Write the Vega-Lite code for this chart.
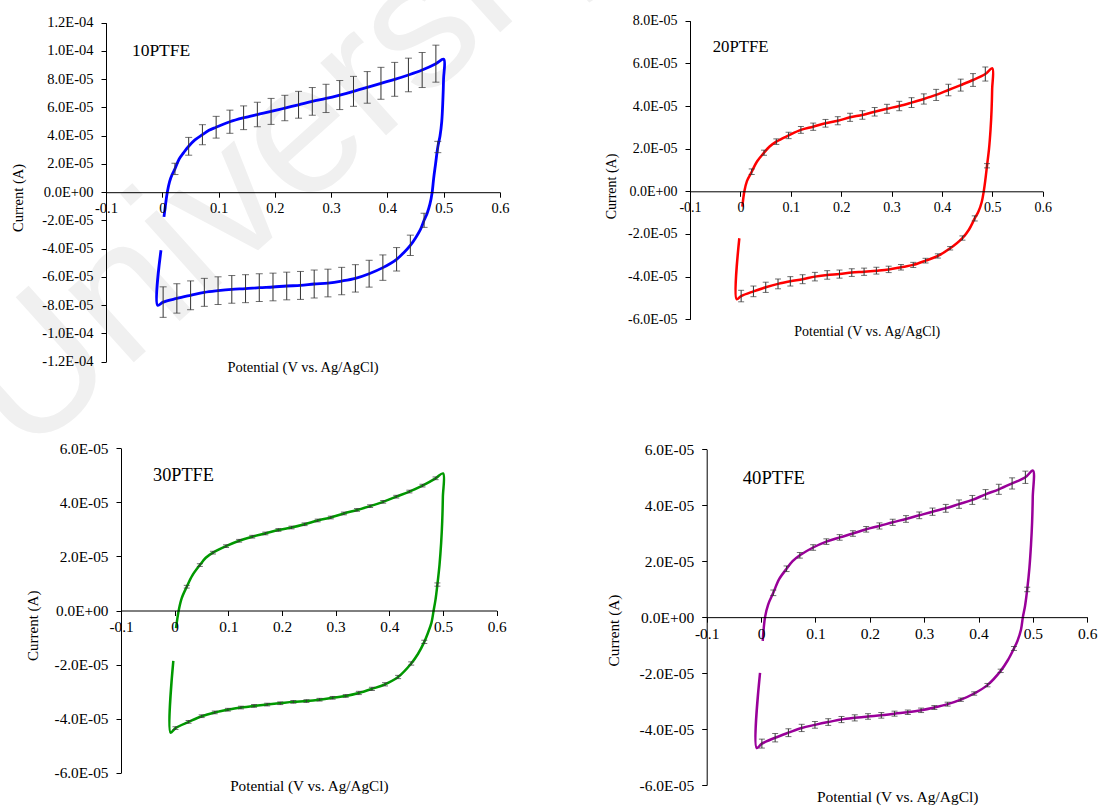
{
  "$schema": "https://vega.github.io/schema/vega-lite/v6.json",
  "width": 1100,
  "height": 807,
  "padding": 0,
  "autosize": {"type": "none"},
  "background": "white",
  "config": {
    "view": {"stroke": null},
    "axis": {"grid": false, "domainColor": "black", "tickColor": "black", "labelColor": "black", "titleColor": "black", "labelFont": "Liberation Serif", "titleFont": "Liberation Serif", "titleFontWeight": "normal", "tickSize": 5, "labelOverlap": false, "labelFlush": false, "domainWidth": 1, "tickWidth": 1}
  },
  "datasets": {
    "p1": [
      {"v": 0.003, "c": -1.75e-5}, {"v": 0.006, "c": -0.8e-5}, {"v": 0.0089, "c": 0}, {"v": 0.013, "c": 0.75e-5}, {"v": 0.0175, "c": 1.25e-5},
      {"v": 0.0225, "c": 1.65e-5, "e": 0.4e-5}, {"v": 0.03, "c": 2.35e-5}, {"v": 0.038, "c": 2.8e-5}, {"v": 0.0469, "c": 3.25e-5, "e": 0.63e-5},
      {"v": 0.058, "c": 3.7e-5}, {"v": 0.0713, "c": 4.07e-5, "e": 0.71e-5}, {"v": 0.083, "c": 4.38e-5}, {"v": 0.0957, "c": 4.6e-5, "e": 0.77e-5},
      {"v": 0.1201, "c": 4.99e-5, "e": 0.82e-5}, {"v": 0.1445, "c": 5.27e-5, "e": 0.84e-5}, {"v": 0.1689, "c": 5.5e-5, "e": 0.86e-5},
      {"v": 0.1933, "c": 5.72e-5, "e": 0.92e-5}, {"v": 0.2177, "c": 5.96e-5, "e": 0.9e-5}, {"v": 0.2421, "c": 6.19e-5, "e": 0.95e-5},
      {"v": 0.2665, "c": 6.43e-5, "e": 0.98e-5}, {"v": 0.2909, "c": 6.64e-5, "e": 1.0e-5}, {"v": 0.3153, "c": 6.88e-5, "e": 1.03e-5},
      {"v": 0.3397, "c": 7.14e-5, "e": 1.06e-5}, {"v": 0.3641, "c": 7.42e-5, "e": 1.12e-5}, {"v": 0.3885, "c": 7.71e-5, "e": 1.13e-5},
      {"v": 0.4129, "c": 7.99e-5, "e": 1.2e-5}, {"v": 0.4373, "c": 8.3e-5, "e": 1.19e-5}, {"v": 0.4617, "c": 8.65e-5, "e": 1.24e-5},
      {"v": 0.4861, "c": 9.1e-5, "e": 1.31e-5}, {"v": 0.5, "c": 9.41e-5},
      {"v": 0.4997, "c": 8.0e-5}, {"v": 0.4985, "c": 6.5e-5}, {"v": 0.4965, "c": 5.0e-5}, {"v": 0.4935, "c": 4.0e-5},
      {"v": 0.4895, "c": 3.2e-5, "e": 0.4e-5}, {"v": 0.4855, "c": 2.0e-5}, {"v": 0.4822, "c": 1.0e-5}, {"v": 0.4795, "c": 0},
      {"v": 0.4755, "c": -0.85e-5}, {"v": 0.4705, "c": -1.5e-5}, {"v": 0.4651, "c": -1.99e-5, "e": 0.5e-5}, {"v": 0.4585, "c": -2.65e-5},
      {"v": 0.4505, "c": -3.2e-5}, {"v": 0.4407, "c": -3.76e-5, "e": 0.72e-5}, {"v": 0.4285, "c": -4.3e-5}, {"v": 0.4163, "c": -4.75e-5, "e": 0.83e-5},
      {"v": 0.3919, "c": -5.34e-5, "e": 0.9e-5}, {"v": 0.3675, "c": -5.77e-5, "e": 0.95e-5}, {"v": 0.3431, "c": -6.1e-5, "e": 0.97e-5},
      {"v": 0.3187, "c": -6.29e-5, "e": 0.97e-5}, {"v": 0.2943, "c": -6.43e-5, "e": 0.98e-5}, {"v": 0.2699, "c": -6.5e-5, "e": 0.99e-5},
      {"v": 0.2455, "c": -6.6e-5, "e": 0.99e-5}, {"v": 0.2211, "c": -6.64e-5, "e": 0.98e-5}, {"v": 0.1967, "c": -6.71e-5, "e": 0.98e-5},
      {"v": 0.1723, "c": -6.76e-5, "e": 0.98e-5}, {"v": 0.1479, "c": -6.83e-5, "e": 0.99e-5}, {"v": 0.1235, "c": -6.88e-5, "e": 0.98e-5},
      {"v": 0.0991, "c": -6.97e-5, "e": 0.98e-5}, {"v": 0.0747, "c": -7.09e-5, "e": 0.99e-5}, {"v": 0.0503, "c": -7.3e-5, "e": 1.02e-5},
      {"v": 0.0259, "c": -7.52e-5, "e": 1.04e-5}, {"v": 0.0015, "c": -7.78e-5, "e": 1.08e-5}, {"v": -0.0082, "c": -8.01e-5},
      {"v": -0.0023, "c": -4.11e-5}
    ],
    "p2": [
      {"v": 0.0039, "c": -0.72e-5}, {"v": 0.0079, "c": 0}, {"v": 0.013, "c": 0.48e-5}, {"v": 0.0225, "c": 0.92e-5, "e": 0.13e-5},
      {"v": 0.033, "c": 1.4e-5}, {"v": 0.0469, "c": 1.81e-5, "e": 0.12e-5}, {"v": 0.058, "c": 2.1e-5}, {"v": 0.0713, "c": 2.33e-5, "e": 0.13e-5},
      {"v": 0.0957, "c": 2.62e-5, "e": 0.15e-5}, {"v": 0.1201, "c": 2.88e-5, "e": 0.16e-5}, {"v": 0.1445, "c": 3.03e-5, "e": 0.17e-5},
      {"v": 0.1689, "c": 3.19e-5, "e": 0.18e-5}, {"v": 0.1933, "c": 3.31e-5, "e": 0.19e-5}, {"v": 0.2177, "c": 3.47e-5, "e": 0.19e-5},
      {"v": 0.2421, "c": 3.58e-5, "e": 0.2e-5}, {"v": 0.2665, "c": 3.73e-5, "e": 0.2e-5}, {"v": 0.2909, "c": 3.87e-5, "e": 0.21e-5},
      {"v": 0.3153, "c": 4.0e-5, "e": 0.22e-5}, {"v": 0.3397, "c": 4.16e-5, "e": 0.23e-5}, {"v": 0.3641, "c": 4.33e-5, "e": 0.24e-5},
      {"v": 0.3885, "c": 4.52e-5, "e": 0.26e-5}, {"v": 0.4129, "c": 4.75e-5, "e": 0.27e-5}, {"v": 0.4373, "c": 4.98e-5, "e": 0.28e-5},
      {"v": 0.4617, "c": 5.22e-5, "e": 0.3e-5}, {"v": 0.4861, "c": 5.5e-5, "e": 0.33e-5}, {"v": 0.5, "c": 5.77e-5},
      {"v": 0.4997, "c": 4.8e-5}, {"v": 0.4985, "c": 3.8e-5}, {"v": 0.4965, "c": 2.9e-5}, {"v": 0.4935, "c": 2.0e-5},
      {"v": 0.4895, "c": 1.2e-5, "e": 0.1e-5}, {"v": 0.486, "c": 0.5e-5}, {"v": 0.483, "c": 0}, {"v": 0.479, "c": -0.5e-5},
      {"v": 0.4725, "c": -0.95e-5}, {"v": 0.4651, "c": -1.27e-5, "e": 0.12e-5}, {"v": 0.4535, "c": -1.8e-5}, {"v": 0.4407, "c": -2.19e-5, "e": 0.1e-5},
      {"v": 0.4163, "c": -2.67e-5, "e": 0.08e-5}, {"v": 0.3919, "c": -3.03e-5, "e": 0.1e-5}, {"v": 0.3675, "c": -3.25e-5, "e": 0.11e-5},
      {"v": 0.3431, "c": -3.45e-5, "e": 0.12e-5}, {"v": 0.3187, "c": -3.56e-5, "e": 0.13e-5}, {"v": 0.2943, "c": -3.66e-5, "e": 0.15e-5},
      {"v": 0.2699, "c": -3.72e-5, "e": 0.16e-5}, {"v": 0.2455, "c": -3.77e-5, "e": 0.17e-5}, {"v": 0.2211, "c": -3.81e-5, "e": 0.18e-5},
      {"v": 0.1967, "c": -3.88e-5, "e": 0.19e-5}, {"v": 0.1723, "c": -3.92e-5, "e": 0.2e-5}, {"v": 0.1479, "c": -4.0e-5, "e": 0.2e-5},
      {"v": 0.1235, "c": -4.12e-5, "e": 0.21e-5}, {"v": 0.0991, "c": -4.22e-5, "e": 0.22e-5}, {"v": 0.0747, "c": -4.34e-5, "e": 0.23e-5},
      {"v": 0.0503, "c": -4.5e-5, "e": 0.24e-5}, {"v": 0.0259, "c": -4.69e-5, "e": 0.25e-5}, {"v": 0.0015, "c": -4.91e-5, "e": 0.27e-5},
      {"v": -0.0073, "c": -5.06e-5}, {"v": -0.0021, "c": -2.2e-5}
    ],
    "p3": [
      {"v": 0.0025, "c": -0.65e-5}, {"v": 0.0075, "c": 0}, {"v": 0.013, "c": 0.45e-5}, {"v": 0.0225, "c": 0.88e-5, "e": 0.05e-5},
      {"v": 0.033, "c": 1.3e-5}, {"v": 0.0469, "c": 1.68e-5, "e": 0.05e-5}, {"v": 0.058, "c": 1.95e-5}, {"v": 0.0713, "c": 2.14e-5, "e": 0.05e-5},
      {"v": 0.0957, "c": 2.38e-5, "e": 0.05e-5}, {"v": 0.1201, "c": 2.58e-5, "e": 0.05e-5}, {"v": 0.1445, "c": 2.73e-5, "e": 0.05e-5},
      {"v": 0.1689, "c": 2.85e-5, "e": 0.05e-5}, {"v": 0.1933, "c": 2.98e-5, "e": 0.05e-5}, {"v": 0.2177, "c": 3.07e-5, "e": 0.05e-5},
      {"v": 0.2421, "c": 3.19e-5, "e": 0.05e-5}, {"v": 0.2665, "c": 3.33e-5, "e": 0.05e-5}, {"v": 0.2909, "c": 3.44e-5, "e": 0.05e-5},
      {"v": 0.3153, "c": 3.59e-5, "e": 0.05e-5}, {"v": 0.3397, "c": 3.72e-5, "e": 0.05e-5}, {"v": 0.3641, "c": 3.86e-5, "e": 0.05e-5},
      {"v": 0.3885, "c": 4.02e-5, "e": 0.05e-5}, {"v": 0.4129, "c": 4.21e-5, "e": 0.05e-5}, {"v": 0.4373, "c": 4.4e-5, "e": 0.05e-5},
      {"v": 0.4617, "c": 4.62e-5, "e": 0.05e-5}, {"v": 0.4861, "c": 4.89e-5, "e": 0.05e-5}, {"v": 0.5, "c": 5.07e-5},
      {"v": 0.4997, "c": 4.2e-5}, {"v": 0.4985, "c": 3.3e-5}, {"v": 0.4965, "c": 2.5e-5}, {"v": 0.4935, "c": 1.7e-5},
      {"v": 0.4895, "c": 0.96e-5, "e": 0.06e-5}, {"v": 0.486, "c": 0.4e-5}, {"v": 0.4825, "c": 0}, {"v": 0.4785, "c": -0.45e-5},
      {"v": 0.4715, "c": -0.85e-5}, {"v": 0.4651, "c": -1.16e-5, "e": 0.06e-5}, {"v": 0.4535, "c": -1.6e-5}, {"v": 0.4407, "c": -1.96e-5, "e": 0.06e-5},
      {"v": 0.4163, "c": -2.46e-5, "e": 0.06e-5}, {"v": 0.3919, "c": -2.73e-5, "e": 0.06e-5}, {"v": 0.3675, "c": -2.9e-5, "e": 0.06e-5},
      {"v": 0.3431, "c": -3.05e-5, "e": 0.06e-5}, {"v": 0.3187, "c": -3.16e-5, "e": 0.05e-5}, {"v": 0.2943, "c": -3.23e-5, "e": 0.05e-5},
      {"v": 0.2699, "c": -3.3e-5, "e": 0.05e-5}, {"v": 0.2455, "c": -3.35e-5, "e": 0.05e-5}, {"v": 0.2211, "c": -3.38e-5, "e": 0.05e-5},
      {"v": 0.1967, "c": -3.43e-5, "e": 0.05e-5}, {"v": 0.1723, "c": -3.48e-5, "e": 0.05e-5}, {"v": 0.1479, "c": -3.53e-5, "e": 0.05e-5},
      {"v": 0.1235, "c": -3.59e-5, "e": 0.05e-5}, {"v": 0.0991, "c": -3.67e-5, "e": 0.05e-5}, {"v": 0.0747, "c": -3.77e-5, "e": 0.05e-5},
      {"v": 0.0503, "c": -3.91e-5, "e": 0.05e-5}, {"v": 0.0259, "c": -4.12e-5, "e": 0.05e-5}, {"v": 0.0015, "c": -4.35e-5, "e": 0.05e-5},
      {"v": -0.0075, "c": -4.52e-5}, {"v": -0.0025, "c": -1.86e-5}
    ],
    "p4": [
      {"v": 0.003, "c": -0.85e-5}, {"v": 0.0073, "c": 0}, {"v": 0.013, "c": 0.45e-5}, {"v": 0.0225, "c": 0.87e-5, "e": 0.1e-5},
      {"v": 0.033, "c": 1.35e-5}, {"v": 0.0469, "c": 1.73e-5, "e": 0.1e-5}, {"v": 0.058, "c": 2.0e-5}, {"v": 0.0713, "c": 2.21e-5, "e": 0.1e-5},
      {"v": 0.0957, "c": 2.49e-5, "e": 0.1e-5}, {"v": 0.1201, "c": 2.7e-5, "e": 0.1e-5}, {"v": 0.1445, "c": 2.85e-5, "e": 0.1e-5},
      {"v": 0.1689, "c": 2.99e-5, "e": 0.1e-5}, {"v": 0.1933, "c": 3.14e-5, "e": 0.1e-5}, {"v": 0.2177, "c": 3.26e-5, "e": 0.11e-5},
      {"v": 0.2421, "c": 3.39e-5, "e": 0.11e-5}, {"v": 0.2665, "c": 3.51e-5, "e": 0.12e-5}, {"v": 0.2909, "c": 3.64e-5, "e": 0.12e-5},
      {"v": 0.3153, "c": 3.77e-5, "e": 0.13e-5}, {"v": 0.3397, "c": 3.89e-5, "e": 0.14e-5}, {"v": 0.3641, "c": 4.04e-5, "e": 0.15e-5},
      {"v": 0.3885, "c": 4.19e-5, "e": 0.16e-5}, {"v": 0.4129, "c": 4.39e-5, "e": 0.17e-5}, {"v": 0.4373, "c": 4.57e-5, "e": 0.18e-5},
      {"v": 0.4617, "c": 4.78e-5, "e": 0.2e-5}, {"v": 0.4861, "c": 5.0e-5, "e": 0.22e-5}, {"v": 0.5, "c": 5.24e-5},
      {"v": 0.4997, "c": 4.3e-5}, {"v": 0.4985, "c": 3.4e-5}, {"v": 0.4965, "c": 2.6e-5}, {"v": 0.4935, "c": 1.75e-5},
      {"v": 0.4895, "c": 0.99e-5, "e": 0.08e-5}, {"v": 0.4855, "c": 0.4e-5}, {"v": 0.4815, "c": 0}, {"v": 0.478, "c": -0.45e-5},
      {"v": 0.4715, "c": -0.85e-5}, {"v": 0.4651, "c": -1.12e-5, "e": 0.07e-5}, {"v": 0.4535, "c": -1.55e-5}, {"v": 0.4407, "c": -1.92e-5, "e": 0.06e-5},
      {"v": 0.4163, "c": -2.43e-5, "e": 0.06e-5}, {"v": 0.3919, "c": -2.73e-5, "e": 0.06e-5}, {"v": 0.3675, "c": -2.95e-5, "e": 0.06e-5},
      {"v": 0.3431, "c": -3.11e-5, "e": 0.07e-5}, {"v": 0.3187, "c": -3.23e-5, "e": 0.07e-5}, {"v": 0.2943, "c": -3.33e-5, "e": 0.08e-5},
      {"v": 0.2699, "c": -3.4e-5, "e": 0.08e-5}, {"v": 0.2455, "c": -3.45e-5, "e": 0.09e-5}, {"v": 0.2211, "c": -3.51e-5, "e": 0.1e-5},
      {"v": 0.1967, "c": -3.55e-5, "e": 0.1e-5}, {"v": 0.1723, "c": -3.6e-5, "e": 0.11e-5}, {"v": 0.1479, "c": -3.66e-5, "e": 0.11e-5},
      {"v": 0.1235, "c": -3.75e-5, "e": 0.12e-5}, {"v": 0.0991, "c": -3.85e-5, "e": 0.12e-5}, {"v": 0.0747, "c": -3.96e-5, "e": 0.13e-5},
      {"v": 0.0503, "c": -4.13e-5, "e": 0.14e-5}, {"v": 0.0259, "c": -4.31e-5, "e": 0.15e-5}, {"v": 0.0015, "c": -4.52e-5, "e": 0.16e-5},
      {"v": -0.008, "c": -4.68e-5}, {"v": -0.0019, "c": -1.99e-5}
    ]
  },
  "layer": [
    {
      "data": {"name": "p1"},
      "encoding": {
        "x": {"field": "v", "type": "quantitative", "scale": {"domain": [-0.1, 0.6], "range": [106, 500], "nice": false, "zero": false},
          "axis": {"orient": "bottom", "zindex": 1, "offset": -614.8, "values": [-0.1, 0, 0.1, 0.2, 0.3, 0.4, 0.5, 0.6], "labelExpr": "replace(format(datum.value, '~g'), '\u2212', '-')", "labelFontSize": 14.5, "labelPadding": 4, "title": "Potential (V vs. Ag/AgCl)", "titleFontSize": 14.5, "titleX": 302.5, "titleY": 175, "titleBaseline": "middle", "titleAlign": "center"}},
        "y": {"field": "c", "type": "quantitative", "scale": {"domain": [-1.2e-4, 1.2e-4], "range": [361.7, 22.7], "nice": false, "zero": false},
          "axis": {"orient": "left", "zindex": 1, "offset": -106, "values": [-1.2e-4, -1e-4, -8e-5, -6e-5, -4e-5, -2e-5, 0, 2e-5, 4e-5, 6e-5, 8e-5, 1e-4, 1.2e-4], "labelExpr": "replace(replace(replace(format(datum.value, '.1e'), 'e-', 'E-0'), 'e+', 'E+0'), '\u2212', '-')", "labelFontSize": 14.5, "labelPadding": 8, "title": "Current (A)", "titleFontSize": 14.5, "titleAngle": 270, "titleX": -88, "titleY": 197.5, "titleBaseline": "middle", "titleAlign": "center"}}
      },
      "layer": [
        {
          "data": {"values": [{"v": -0.2439, "c": -1.897e-4, "t": "University"}]},
          "mark": {"type": "text", "angle": 318, "align": "left", "baseline": "alphabetic", "font": "Liberation Sans", "fontSize": 185, "color": "#f0f0f0"},
          "encoding": {"text": {"field": "t"}}
        },
        {
          "transform": [{"window": [{"op": "row_number", "as": "i"}]}],
          "mark": {"type": "line", "color": "#0000ff", "strokeWidth": 2.8, "interpolate": "catmull-rom"},
          "encoding": {"order": {"field": "i", "type": "quantitative"}}
        },
        {
          "transform": [{"filter": "isValid(datum.e)"}],
          "mark": {"type": "errorbar", "ticks": true, "size": 7, "thickness": 1, "color": "#333333"},
          "encoding": {"yError": {"field": "e"}}
        },
        {
          "data": {"values": [{"v": -0.054, "c": 1.0e-4, "t": "10PTFE"}]},
          "mark": {"type": "text", "align": "left", "baseline": "middle", "font": "Liberation Serif", "fontSize": 17.5, "color": "black"},
          "encoding": {"text": {"field": "t"}}
        }
      ]
    },
    {
      "data": {"name": "p2"},
      "encoding": {
        "x": {"field": "v", "type": "quantitative", "scale": {"domain": [-0.1, 0.6], "range": [690, 1042.7], "nice": false, "zero": false},
          "axis": {"orient": "bottom", "zindex": 1, "offset": -615.7, "values": [-0.1, 0, 0.1, 0.2, 0.3, 0.4, 0.5, 0.6], "labelExpr": "replace(format(datum.value, '~g'), '\u2212', '-')", "labelFontSize": 14, "labelPadding": 4, "title": "Potential (V vs. Ag/AgCl)", "titleFontSize": 14, "titleX": 866.7, "titleY": 139.7, "titleBaseline": "middle", "titleAlign": "center"}},
        "y": {"field": "c", "type": "quantitative", "scale": {"domain": [-6e-5, 8e-5], "range": [319.3, 20.7], "nice": false, "zero": false},
          "axis": {"orient": "left", "zindex": 1, "offset": -690, "values": [-6e-5, -4e-5, -2e-5, 0, 2e-5, 4e-5, 6e-5, 8e-5], "labelExpr": "replace(replace(replace(format(datum.value, '.1e'), 'e-', 'E-0'), 'e+', 'E+0'), '\u2212', '-')", "labelFontSize": 14, "labelPadding": 8, "title": "Current (A)", "titleFontSize": 14, "titleAngle": 270, "titleX": -78.3, "titleY": 186, "titleBaseline": "middle", "titleAlign": "center"}}
      },
      "layer": [
        {
          "transform": [{"window": [{"op": "row_number", "as": "i"}]}],
          "mark": {"type": "line", "color": "#ff0000", "strokeWidth": 2.5, "interpolate": "catmull-rom"},
          "encoding": {"order": {"field": "i", "type": "quantitative"}}
        },
        {
          "transform": [{"filter": "isValid(datum.e)"}],
          "mark": {"type": "errorbar", "ticks": true, "size": 6, "thickness": 1, "color": "#333333"},
          "encoding": {"yError": {"field": "e"}}
        },
        {
          "data": {"values": [{"v": -0.055, "c": 6.78e-5, "t": "20PTFE"}]},
          "mark": {"type": "text", "align": "left", "baseline": "middle", "font": "Liberation Serif", "fontSize": 16.8, "color": "black"},
          "encoding": {"text": {"field": "t"}}
        }
      ]
    },
    {
      "data": {"name": "p3"},
      "encoding": {
        "x": {"field": "v", "type": "quantitative", "scale": {"domain": [-0.1, 0.6], "range": [121, 496.7], "nice": false, "zero": false},
          "axis": {"orient": "bottom", "zindex": 1, "offset": -196.5, "values": [-0.1, 0, 0.1, 0.2, 0.3, 0.4, 0.5, 0.6], "labelExpr": "replace(format(datum.value, '~g'), '\u2212', '-')", "labelFontSize": 15.3, "labelPadding": 4, "title": "Potential (V vs. Ag/AgCl)", "titleFontSize": 15.2, "titleX": 308.8, "titleY": 175.2, "titleBaseline": "middle", "titleAlign": "center"}},
        "y": {"field": "c", "type": "quantitative", "scale": {"domain": [-6e-5, 6e-5], "range": [772.7, 448.3], "nice": false, "zero": false},
          "axis": {"orient": "left", "zindex": 1, "offset": -121, "values": [-6e-5, -4e-5, -2e-5, 0, 2e-5, 4e-5, 6e-5], "labelExpr": "replace(replace(replace(format(datum.value, '.1e'), 'e-', 'E-0'), 'e+', 'E+0'), '\u2212', '-')", "labelFontSize": 15.3, "labelPadding": 8, "title": "Current (A)", "titleFontSize": 15, "titleAngle": 270, "titleX": -88.2, "titleY": 625.3, "titleBaseline": "middle", "titleAlign": "center"}}
      },
      "layer": [
        {
          "transform": [{"window": [{"op": "row_number", "as": "i"}]}],
          "mark": {"type": "line", "color": "#009900", "strokeWidth": 2.5, "interpolate": "catmull-rom"},
          "encoding": {"order": {"field": "i", "type": "quantitative"}}
        },
        {
          "transform": [{"filter": "isValid(datum.e)"}],
          "mark": {"type": "errorbar", "ticks": true, "size": 6, "thickness": 1, "color": "#333333"},
          "encoding": {"yError": {"field": "e"}}
        },
        {
          "data": {"values": [{"v": -0.0404, "c": 4.97e-5, "t": "30PTFE"}]},
          "mark": {"type": "text", "align": "left", "baseline": "middle", "font": "Liberation Serif", "fontSize": 18.3, "color": "black"},
          "encoding": {"text": {"field": "t"}}
        }
      ]
    },
    {
      "data": {"name": "p4"},
      "encoding": {
        "x": {"field": "v", "type": "quantitative", "scale": {"domain": [-0.1, 0.6], "range": [706.7, 1087.3], "nice": false, "zero": false},
          "axis": {"orient": "bottom", "zindex": 1, "offset": -189.85, "values": [-0.1, 0, 0.1, 0.2, 0.3, 0.4, 0.5, 0.6], "labelExpr": "replace(format(datum.value, '~g'), '\u2212', '-')", "labelFontSize": 15.5, "labelPadding": 4, "title": "Potential (V vs. Ag/AgCl)", "titleFontSize": 15.5, "titleX": 897.2, "titleY": 179.5, "titleBaseline": "middle", "titleAlign": "center"}},
        "y": {"field": "c", "type": "quantitative", "scale": {"domain": [-6e-5, 6e-5], "range": [785, 449.3], "nice": false, "zero": false},
          "axis": {"orient": "left", "zindex": 1, "offset": -706.7, "values": [-6e-5, -4e-5, -2e-5, 0, 2e-5, 4e-5, 6e-5], "labelExpr": "replace(replace(replace(format(datum.value, '.1e'), 'e-', 'E-0'), 'e+', 'E+0'), '\u2212', '-')", "labelFontSize": 15.5, "labelPadding": 8, "title": "Current (A)", "titleFontSize": 15.3, "titleAngle": 270, "titleX": -93.5, "titleY": 630, "titleBaseline": "middle", "titleAlign": "center"}}
      },
      "layer": [
        {
          "transform": [{"window": [{"op": "row_number", "as": "i"}]}],
          "mark": {"type": "line", "color": "#990099", "strokeWidth": 2.5, "interpolate": "catmull-rom"},
          "encoding": {"order": {"field": "i", "type": "quantitative"}}
        },
        {
          "transform": [{"filter": "isValid(datum.e)"}],
          "mark": {"type": "errorbar", "ticks": true, "size": 6, "thickness": 1, "color": "#333333"},
          "encoding": {"yError": {"field": "e"}}
        },
        {
          "data": {"values": [{"v": -0.0338, "c": 4.96e-5, "t": "40PTFE"}]},
          "mark": {"type": "text", "align": "left", "baseline": "middle", "font": "Liberation Serif", "fontSize": 18.7, "color": "black"},
          "encoding": {"text": {"field": "t"}}
        }
      ]
    }
  ],
  "resolve": {"scale": {"x": "independent", "y": "independent"}}
}
